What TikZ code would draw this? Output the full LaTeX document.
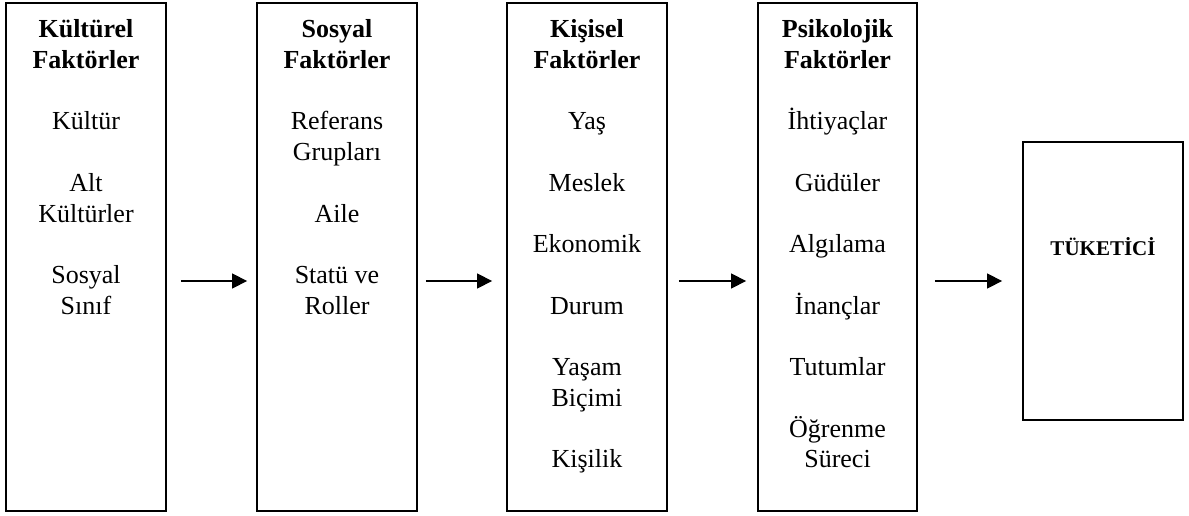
\documentclass[tikz,border=0pt]{standalone}
\usepackage{fontspec}
\setmainfont{Liberation Serif}
\usetikzlibrary{arrows.meta}
\begin{document}
\begin{tikzpicture}[x=1pt,y=-1pt,
  fbox/.style={draw=black,line width=1.8pt,rectangle,inner sep=0pt},
  ttl/.style={anchor=base,inner sep=0pt,font=\fontsize{26}{30}\selectfont\bfseries},
  itm/.style={anchor=base,inner sep=0pt,font=\fontsize{26}{30}\selectfont},
  arr/.style={line width=1.3pt,-{Triangle[length=15pt,width=15pt]}}]
\useasboundingbox (0,0) rectangle (1189,516);
% boxes
\node[fbox,minimum width=160pt,minimum height=508pt] (b1) at (86,257) {};
\node[fbox,minimum width=160pt,minimum height=508pt] (b2) at (337,257) {};
\node[fbox,minimum width=160pt,minimum height=508pt] (b3) at (587,257) {};
\node[fbox,minimum width=159pt,minimum height=508pt] (b4) at (837.5,257) {};
\node[fbox,minimum width=160pt,minimum height=278pt] (b5) at (1103,281) {};
% box 1
\node[ttl] (t1a) at (86,38) {Kültürel};
\node[ttl] (t1b) at (86,68.6) {Faktörler};
\node[itm] (i1a) at (86,130) {Kültür};
\node[itm] (i1b) at (86,191.4) {Alt};
\node[itm] (i1c) at (86,222.1) {Kültürler};
\node[itm] (i1d) at (86,283.5) {Sosyal};
\node[itm] (i1e) at (86,314.2) {Sınıf};
% box 2
\node[ttl] (t2a) at (337,38) {Sosyal};
\node[ttl] (t2b) at (337,68.6) {Faktörler};
\node[itm] (i2a) at (337,130) {Referans};
\node[itm] (i2b) at (337,160.7) {Grupları};
\node[itm] (i2c) at (337,222.1) {Aile};
\node[itm] (i2d) at (337,283.5) {Statü ve};
\node[itm] (i2e) at (337,314.2) {Roller};
% box 3
\node[ttl] (t3a) at (587,38) {Kişisel};
\node[ttl] (t3b) at (587,68.6) {Faktörler};
\node[itm] (i3a) at (587,130) {Yaş};
\node[itm] (i3b) at (587,191.4) {Meslek};
\node[itm] (i3c) at (587,252.8) {Ekonomik};
\node[itm] (i3d) at (587,314.2) {Durum};
\node[itm] (i3e) at (587,375.6) {Yaşam};
\node[itm] (i3f) at (587,406.3) {Biçimi};
\node[itm] (i3g) at (587,467.7) {Kişilik};
% box 4
\node[ttl] (t4a) at (837.5,38) {Psikolojik};
\node[ttl] (t4b) at (837.5,68.6) {Faktörler};
\node[itm] (i4a) at (837.5,130) {İhtiyaçlar};
\node[itm] (i4b) at (837.5,191.4) {Güdüler};
\node[itm] (i4c) at (837.5,252.8) {Algılama};
\node[itm] (i4d) at (837.5,314.2) {İnançlar};
\node[itm] (i4e) at (837.5,375.6) {Tutumlar};
\node[itm] (i4f) at (837.5,437) {Öğrenme};
\node[itm] (i4g) at (837.5,467.7) {Süreci};
% box 5
\node[anchor=base,inner sep=0pt,font=\fontsize{21}{25}\selectfont\bfseries] (t5) at (1103,255) {TÜKETİCİ};
% arrows
\draw[arr] ([shift={(14,24)}]b1.east) -- ([shift={(-9,24)}]b2.west);
\draw[arr] ([shift={(8,24)}]b2.east) -- ([shift={(-14,24)}]b3.west);
\draw[arr] ([shift={(11,24)}]b3.east) -- ([shift={(-11,24)}]b4.west);
\draw[arr] ([shift={(17,0)}]b4.east |- b5.west) -- ([shift={(-20,0)}]b5.west);
\end{tikzpicture}
\end{document}
